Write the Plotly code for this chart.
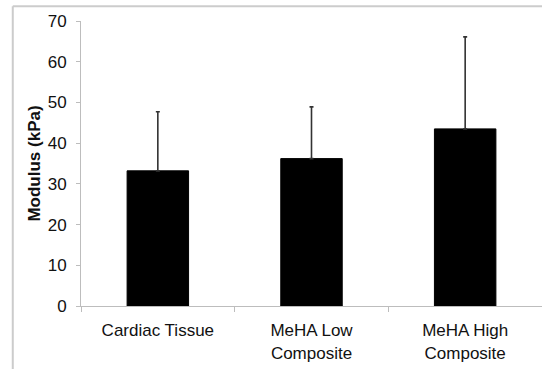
import plotly.graph_objects as go

# Mean compressive modulus with standard deviation (upper bars only)
categories = ["Cardiac Tissue", "MeHA Low<br>Composite", "MeHA High<br>Composite"]
modulus_kpa = [33.2, 36.2, 43.5]
std_dev_kpa = [14.5, 12.7, 22.6]
y_ticks = [0, 10, 20, 30, 40, 50, 60, 70]

axis_grey = "#bdbdbd"
font_family = "Liberation Sans, Arial, sans-serif"

fig = go.Figure(
    go.Bar(
        x=categories,
        y=modulus_kpa,
        marker=dict(color="#000000", line=dict(color="#000000", width=1)),
        error_y=dict(
            type="data",
            array=std_dev_kpa,
            symmetric=False,
            arrayminus=[0, 0, 0],
            color="#333333",
            thickness=1.6,
            width=2,
        ),
        width=0.4,
        showlegend=False,
    )
)

# Outer chart frame (top and left edges visible)
fig.add_shape(type="line", xref="paper", yref="paper",
              x0=-0.148, x1=1.1, y0=1.052, y1=1.052,
              line=dict(color="#cccccc", width=2))
fig.add_shape(type="line", xref="paper", yref="paper",
              x0=-0.148, x1=-0.148, y0=1.052, y1=-0.3,
              line=dict(color="#cccccc", width=2))

fig.update_layout(
    width=542,
    height=369,
    margin=dict(l=81, r=0, t=21, b=63),
    paper_bgcolor="white",
    plot_bgcolor="white",
    font=dict(family=font_family, size=17, color="#111111"),
    xaxis=dict(
        type="category",
        range=[-0.5, 2.5],
        showline=True,
        linecolor=axis_grey,
        linewidth=1,
        ticks="outside",
        tickson="boundaries",
        ticklen=5,
        tickcolor=axis_grey,
        showgrid=False,
        tickfont=dict(size=17),
        ticklabelstandoff=9,
    ),
    yaxis=dict(
        range=[0, 70],
        tickvals=y_ticks,
        showline=True,
        linecolor=axis_grey,
        linewidth=1,
        ticks="outside",
        ticklen=4,
        tickcolor=axis_grey,
        showgrid=False,
        zeroline=False,
        tickfont=dict(size=17),
        ticklabelstandoff=6,
        title=dict(text="<b>Modulus (kPa)</b>", font=dict(size=17), standoff=2),
    ),
)

fig.write_html("out.html")
